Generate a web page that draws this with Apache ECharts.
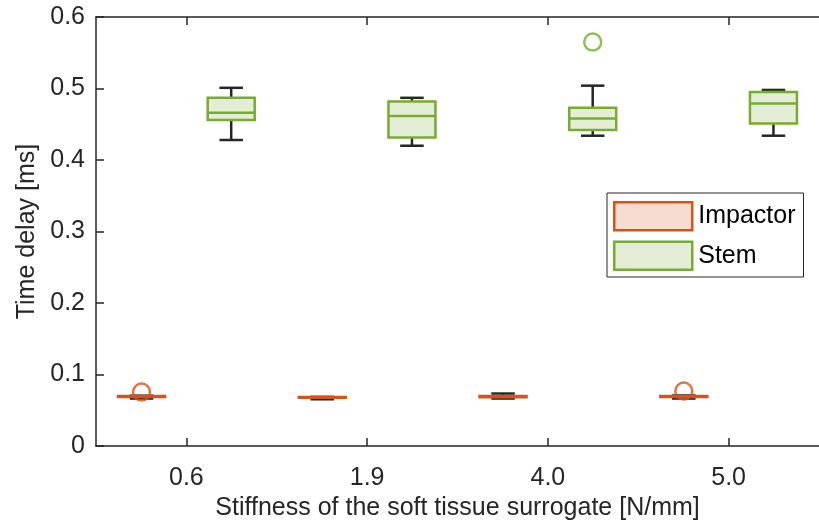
<!DOCTYPE html>
<html>
<head>
<meta charset="utf-8">
<script src="https://cdn.jsdelivr.net/npm/echarts@6/dist/echarts.min.js"></script>
<style>
html, body { margin: 0; padding: 0; background: #fff; }
#chart { width: 819px; height: 526px; }
</style>
</head>
<body>
<div id="chart"></div>
<script>
var categories = ['0.6', '1.9', '4.0', '5.0'];
// [min, q1, median, q3, max] per stiffness
var impactorBoxes = [
	[0.0665, 0.0688, 0.0695, 0.0702, 0.0705],
	[0.0655, 0.0675, 0.0680, 0.0685, 0.0688],
	[0.0665, 0.0682, 0.0690, 0.0700, 0.0735],
	[0.0665, 0.0688, 0.0695, 0.0702, 0.0708]
];
var stemBoxes = [
	[0.428, 0.456, 0.466, 0.487, 0.501],
	[0.420, 0.4315, 0.4615, 0.482, 0.487],
	[0.434, 0.442, 0.458, 0.473, 0.504],
	[0.434, 0.451, 0.479, 0.495, 0.498]
];
// [category index, value]
var impactorOutliers = [[0, 0.0755], [3, 0.077]];
var stemOutliers = [[2, 0.565]];

var txt = '#262626';
var font = 'Liberation Sans';
var tickPos = [1, 2, 3, 4];

function boxSeries(name, boxes, offset, stroke, fill) {
	var data = boxes.map(function (b, i) {
		return [i + 1 + offset].concat(b);
	});
	return {
		name: name,
		type: 'custom',
		itemStyle: { color: fill, borderColor: stroke },
		renderItem: function (params, api) {
			var x = api.value(0);
			var w = api.size([0.26, 0])[0];
			var pMin = api.coord([x, api.value(1)]);
			var pQ1 = api.coord([x, api.value(2)]);
			var pMed = api.coord([x, api.value(3)]);
			var pQ3 = api.coord([x, api.value(4)]);
			var pMax = api.coord([x, api.value(5)]);
			var cx = pMed[0];
			var wl = { stroke: txt, lineWidth: 2.5 };
			return {
				type: 'group',
				children: [
					{ type: 'line', shape: { x1: cx, y1: pMax[1], x2: cx, y2: pQ3[1] }, style: wl },
					{ type: 'line', shape: { x1: cx, y1: pQ1[1], x2: cx, y2: pMin[1] }, style: wl },
					{ type: 'line', shape: { x1: cx - w / 4, y1: pMax[1], x2: cx + w / 4, y2: pMax[1] }, style: wl },
					{ type: 'line', shape: { x1: cx - w / 4, y1: pMin[1], x2: cx + w / 4, y2: pMin[1] }, style: wl },
					{ type: 'rect', shape: { x: cx - w / 2, y: pQ3[1], width: w, height: pQ1[1] - pQ3[1] },
						style: { fill: fill, stroke: stroke, lineWidth: 2.5 } },
					{ type: 'line', shape: { x1: cx - w / 2, y1: pMed[1], x2: cx + w / 2, y2: pMed[1] },
						style: { stroke: stroke, lineWidth: 2.5 } }
				]
			};
		},
		data: data,
		z: 2
	};
}

function outlierSeries(name, pts, offset, stroke) {
	return {
		name: name,
		type: 'scatter',
		symbol: 'circle',
		symbolSize: 17,
		itemStyle: { color: 'rgba(0,0,0,0)', borderColor: stroke, borderWidth: 2.5 },
		data: pts.map(function (p) { return [p[0] + 1 + offset, p[1]]; }),
		z: 3
	};
}

var chart = echarts.init(document.getElementById('chart'));
chart.setOption({
	animation: false,
	textStyle: { fontFamily: font },
	grid: { left: 96, top: 17, right: -4, bottom: 77 },
	legend: {
		orient: 'vertical',
		left: 607,
		top: 193,
		padding: [8, 8, 6, 6],
		itemGap: 9,
		itemWidth: 78,
		itemHeight: 28,
		backgroundColor: '#fff',
		borderColor: txt,
		borderWidth: 1,
		borderRadius: 0,
		textStyle: { fontSize: 25, color: '#000', fontFamily: font, padding: [0, 0, 0, 1] },
		data: [
			{ name: 'Impactor', icon: 'rect', itemStyle: { color: '#F7DDD1', borderColor: '#D95319', borderWidth: 2.5 } },
			{ name: 'Stem', icon: 'rect', itemStyle: { color: '#E4EED6', borderColor: '#77AC30', borderWidth: 2.5 } }
		]
	},
	xAxis: [{
		type: 'value',
		position: 'bottom',
		min: 0.5,
		max: 4.5,
		name: 'Stiffness of the soft tissue surrogate [N/mm]',
		nameLocation: 'middle',
		nameGap: 49,
		nameTextStyle: { fontSize: 25, color: txt, fontFamily: font },
		axisLine: { show: true, lineStyle: { color: txt, width: 1.5 } },
		axisTick: { show: true, inside: true, length: 8, customValues: tickPos, lineStyle: { color: txt, width: 1.5 } },
		axisLabel: {
			customValues: tickPos, fontSize: 25, color: txt, margin: 20, fontFamily: font,
			formatter: function (v) { return categories[Math.round(v) - 1]; }
		},
		splitLine: { show: false }
	}, {
		type: 'value',
		position: 'top',
		min: 0.5,
		max: 4.5,
		axisLine: { show: true, lineStyle: { color: txt, width: 1.5 } },
		axisTick: { show: true, inside: true, length: 8, customValues: tickPos, lineStyle: { color: txt, width: 1.5 } },
		axisLabel: { show: false },
		splitLine: { show: false }
	}],
	yAxis: {
		type: 'value',
		min: 0,
		max: 0.6,
		interval: 0.1,
		name: 'Time delay [ms]',
		nameLocation: 'middle',
		nameGap: 52,
		nameTextStyle: { fontSize: 25, color: txt, fontFamily: font },
		axisLine: { show: true, lineStyle: { color: txt, width: 1.5 } },
		axisTick: { show: true, inside: true, length: 8, lineStyle: { color: txt, width: 1.5 } },
		axisLabel: { fontSize: 25, color: txt, margin: 11, fontFamily: font },
		splitLine: { show: false }
	},
	series: [
		boxSeries('Impactor', impactorBoxes, -0.248, '#D95319', '#F7DDD1'),
		boxSeries('Stem', stemBoxes, 0.248, '#77AC30', '#E4EED6'),
		outlierSeries('Impactor', impactorOutliers, -0.248, '#D95319'),
		outlierSeries('Stem', stemOutliers, 0.248, '#77AC30')
	]
});
</script>
</body>
</html>
